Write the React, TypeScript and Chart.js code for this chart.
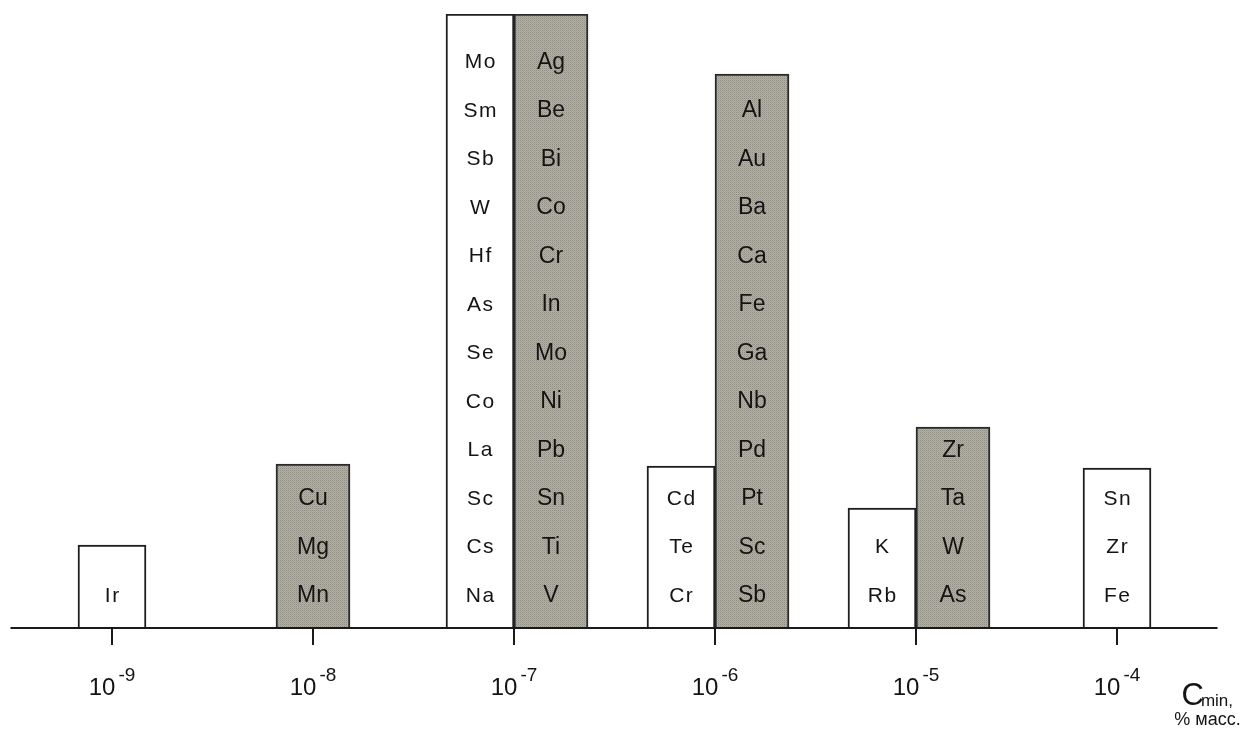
import React, { useEffect, useRef } from "react";
import { Chart, registerables } from "chart.js";

Chart.register(...registerables);

// Categories (minimum detectable concentration, % mass)
const categories = ["1e-9", "1e-8", "1e-7", "1e-6", "1e-5", "1e-4"];
const tickBase = "10";
const tickExponents = ["-9", "-8", "-7", "-6", "-5", "-4"];

// Elements listed in each bar (top to bottom)
const whiteElements: string[][] = [
  ["Ir"],
  [],
  ["Mo", "Sm", "Sb", "W", "Hf", "As", "Se", "Co", "La", "Sc", "Cs", "Na"],
  ["Cd", "Te", "Cr"],
  ["K", "Rb"],
  ["Sn", "Zr", "Fe"],
];
const grayElements: string[][] = [
  [],
  ["Cu", "Mg", "Mn"],
  ["Ag", "Be", "Bi", "Co", "Cr", "In", "Mo", "Ni", "Pb", "Sn", "Ti", "V"],
  ["Al", "Au", "Ba", "Ca", "Fe", "Ga", "Nb", "Pd", "Pt", "Sc", "Sb"],
  ["Zr", "Ta", "W", "As"],
  [],
];

// Bar heights (relative units)
const whiteHeights: (number | null)[] = [83, null, 614, 162, 120, 160];
const grayHeights: (number | null)[] = [null, 164, 614, 554, 201, null];

const axisTitleMain = "C";
const axisTitleSub = "min,";
const axisTitleUnit = "% масс.";

function makePattern(): CanvasPattern | string {
  const c = document.createElement("canvas");
  c.width = 2;
  c.height = 2;
  const g = c.getContext("2d");
  if (!g) return "#a8a698";
  g.fillStyle = "#b4b2a5";
  g.fillRect(0, 0, 2, 2);
  g.fillStyle = "#8f8d81";
  g.fillRect(0, 0, 1, 1);
  g.fillStyle = "#a4a295";
  g.fillRect(1, 1, 1, 1);
  const p = g.createPattern(c, "repeat");
  return p || "#a8a698";
}

const overlayPlugin = {
  id: "overlay",
  afterDatasetsDraw(chart: any) {
    const ctx: CanvasRenderingContext2D = chart.ctx;
    const xs = chart.scales.x;
    const ys = chart.scales.y;
    const area = chart.chartArea;
    const base = ys.getPixelForValue(0);
    ctx.save();

    // element labels inside bars
    const lists = [whiteElements, grayElements];
    lists.forEach((list, di) => {
      const meta = chart.getDatasetMeta(di);
      list.forEach((names, i) => {
        const bar = meta.data[i];
        if (!bar || !names.length) return;
        ctx.font = di === 0 ? "21px 'Liberation Sans', Arial, sans-serif" : "23px 'Liberation Sans', Arial, sans-serif";
        (ctx as any).letterSpacing = di === 0 ? "1.5px" : "0px";
        ctx.fillStyle = "#141414";
        ctx.textAlign = "center";
        ctx.textBaseline = "middle";
        const n = names.length;
        names.forEach((name, j) => {
          const y = bar.base - 32 - (n - 1 - j) * 48.5;
          ctx.fillText(name, bar.x + (di === 0 ? 0.75 : 0), y);
        });
      });
    });
    (ctx as any).letterSpacing = "0px";

    // axis line
    ctx.strokeStyle = "#1a1a1a";
    ctx.lineWidth = 2;
    ctx.beginPath();
    ctx.moveTo(area.left - 1, base);
    ctx.lineTo(area.right, base);
    ctx.stroke();

    // ticks and labels
    categories.forEach((_, i) => {
      const px = Math.round(xs.getPixelForValue(i));
      ctx.beginPath();
      ctx.moveTo(px, base);
      ctx.lineTo(px, base + 17);
      ctx.stroke();

      ctx.fillStyle = "#141414";
      ctx.textBaseline = "alphabetic";
      ctx.textAlign = "left";
      ctx.font = "24px 'Liberation Sans', Arial, sans-serif";
      const w1 = ctx.measureText(tickBase).width;
      ctx.font = "19px 'Liberation Sans', Arial, sans-serif";
      const w2 = ctx.measureText(tickExponents[i]).width;
      const start = px - (w1 + w2 + 3) / 2;
      ctx.font = "24px 'Liberation Sans', Arial, sans-serif";
      ctx.fillText(tickBase, start, base + 67);
      ctx.font = "19px 'Liberation Sans', Arial, sans-serif";
      ctx.fillText(tickExponents[i], start + w1 + 3, base + 53);
    });

    // axis title
    ctx.textAlign = "left";
    ctx.font = "31px 'Liberation Sans', Arial, sans-serif";
    const cx = area.right - 36;
    ctx.fillText(axisTitleMain, cx, base + 77);
    const wc = ctx.measureText(axisTitleMain).width;
    ctx.font = "17px 'Liberation Sans', Arial, sans-serif";
    ctx.fillText(axisTitleSub, cx + wc - 3, base + 78);
    ctx.font = "18px 'Liberation Sans', Arial, sans-serif";
    ctx.textAlign = "center";
    ctx.fillText(axisTitleUnit, area.right - 10, base + 97);

    ctx.restore();
  },
};

export default function App() {
  const ref = useRef<HTMLCanvasElement | null>(null);

  useEffect(() => {
    if (!ref.current) return;
    const pattern = makePattern();
    const chart = new Chart(ref.current, {
      type: "bar",
      data: {
        labels: categories,
        datasets: [
          {
            label: "white",
            data: whiteHeights as any,
            backgroundColor: "#ffffff",
            borderColor: "#1e1e1e",
            borderWidth: 2,
            barThickness: 68,
            skipNull: true,
          } as any,
          {
            label: "gray",
            data: grayHeights as any,
            backgroundColor: pattern as any,
            borderColor: "#2a2a2a",
            borderWidth: 2,
            barThickness: 74,
            skipNull: true,
          } as any,
        ],
      },
      options: {
        animation: false,
        responsive: false,
        maintainAspectRatio: false,
        layout: { padding: { left: 11.5, right: 32.5, top: 14, bottom: 105 } },
        plugins: {
          legend: { display: false },
          tooltip: { enabled: false },
        },
        scales: {
          x: { display: false, offset: true },
          y: { display: false, min: 0, max: 614 },
        },
      },
      plugins: [overlayPlugin],
    });
    return () => chart.destroy();
  }, []);

  return (
    <div style={{ position: "absolute", left: 0, top: 0, width: 1250, height: 733, background: "#fff" }}>
      <canvas ref={ref} width={1250} height={733} style={{ display: "block" }} />
    </div>
  );
}
